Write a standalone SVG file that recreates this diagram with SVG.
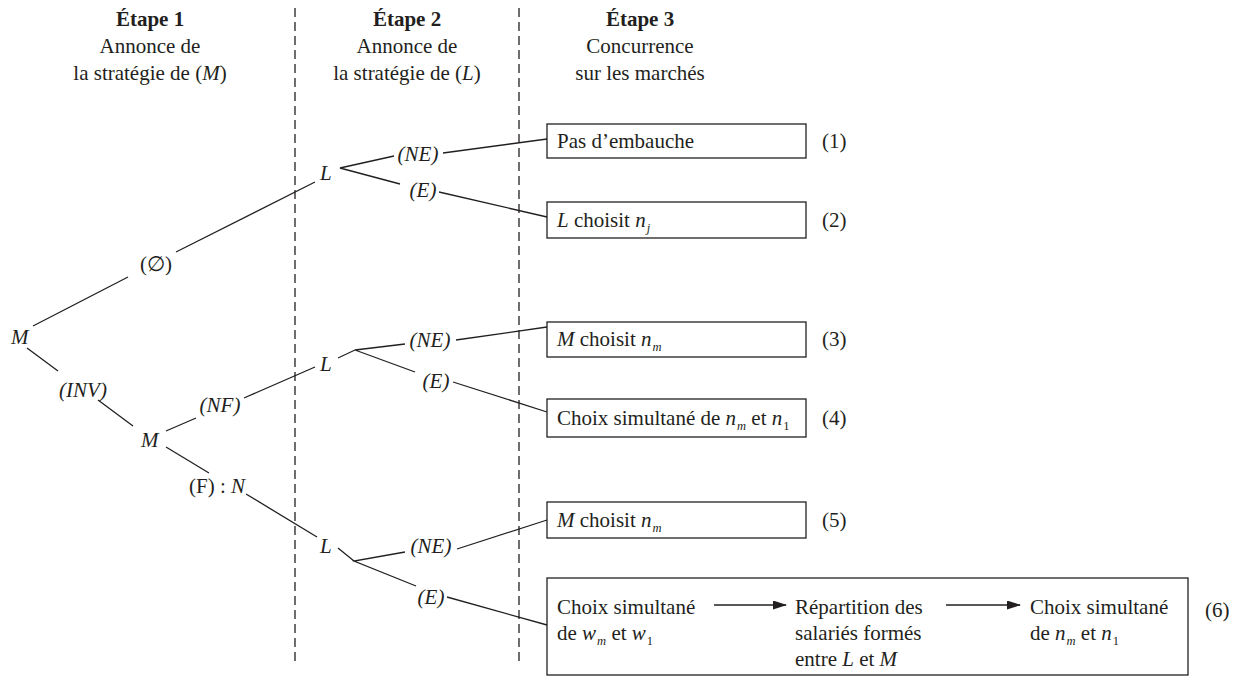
<svg xmlns="http://www.w3.org/2000/svg" width="1241" height="687" viewBox="0 0 1241 687">
<defs>
<style>
text{font-family:"Liberation Serif","Times New Roman","DejaVu Serif",serif;font-size:21px;fill:#231f20}
.b{font-weight:bold}
.i{font-style:italic}
.c{text-anchor:middle}
.sub{font-size:12.5px;font-style:italic}
.subn{font-size:12.5px}
.box{fill:none;stroke:#231f20;stroke-width:1.3}
.ln{stroke:#231f20;stroke-width:1.3;fill:none}
.dash{stroke:#231f20;stroke-width:1.3;stroke-dasharray:9,5;fill:none}
</style>
<marker id="ah" markerWidth="14" markerHeight="9" refX="13" refY="4.5" orient="auto" markerUnits="userSpaceOnUse">
<path d="M0,0 L14,4.5 L0,9 Z" fill="#231f20"/>
</marker>
</defs>
<rect width="1241" height="687" fill="#fff"/>
<g id="stages">
<line class="dash" x1="295" y1="8" x2="295" y2="662"/>
<line class="dash" x1="519" y1="8" x2="519" y2="662"/>
</g>
<g id="headers">
<text class="c b" x="150" y="26">Étape 1</text>
<text class="c" x="150" y="53">Annonce de</text>
<text class="c" x="150" y="80">la stratégie de (<tspan class="i">M</tspan>)</text>
<text class="c b" x="407" y="26">Étape 2</text>
<text class="c" x="407" y="53">Annonce de</text>
<text class="c" x="407" y="80">la stratégie de (<tspan class="i">L</tspan>)</text>
<text class="c b" x="640" y="26">Étape 3</text>
<text class="c" x="640" y="53">Concurrence</text>
<text class="c" x="640" y="80">sur les marchés</text>
</g>
<g id="connectors">
<line class="ln" x1="33" y1="326" x2="128" y2="277"/>
<line class="ln" x1="176" y1="252" x2="315" y2="182"/>
<line class="ln" x1="27" y1="348" x2="58" y2="371"/>
<line class="ln" x1="98" y1="400" x2="133" y2="426"/>
<line class="ln" x1="166" y1="431" x2="196" y2="418"/>
<line class="ln" x1="244" y1="398" x2="315" y2="367"/>
<line class="ln" x1="166" y1="447" x2="209" y2="473"/>
<line class="ln" x1="246" y1="494" x2="317" y2="537"/>
<polyline class="ln" points="394,156 340,168 400,184"/>
<line class="ln" x1="443" y1="153" x2="547" y2="139"/>
<line class="ln" x1="439" y1="192" x2="547" y2="217"/>
<line class="ln" x1="338" y1="358" x2="355" y2="350"/>
<polyline class="ln" points="405,344 355,350 415,372"/>
<line class="ln" x1="456" y1="340" x2="547" y2="327"/>
<line class="ln" x1="453" y1="382" x2="547" y2="412"/>
<line class="ln" x1="338" y1="548" x2="354" y2="561"/>
<polyline class="ln" points="405,552 354,561 416,586"/>
<line class="ln" x1="457" y1="549" x2="547" y2="520"/>
<line class="ln" x1="447" y1="597" x2="547" y2="625"/>
<line class="ln" x1="714" y1="605" x2="786" y2="605" marker-end="url(#ah)"/>
<line class="ln" x1="946" y1="605" x2="1020" y2="605" marker-end="url(#ah)"/>
</g>
<g id="tree-labels">
<text class="i" x="11" y="344">M</text>
<text class="c" x="156" y="271">(∅)</text>
<text class="i" x="320" y="180">L</text>
<text class="i c" x="418" y="161">(NE)</text>
<text class="i c" x="423" y="197">(E)</text>
<text class="i c" x="83" y="397">(INV)</text>
<text class="i" x="141" y="447">M</text>
<text class="i c" x="220" y="412">(NF)</text>
<text class="i" x="320" y="371">L</text>
<text class="i c" x="430" y="347">(NE)</text>
<text class="i c" x="436" y="388">(E)</text>
<text x="189" y="493">(F) : <tspan class="i">N</tspan></text>
<text class="i" x="320" y="553">L</text>
<text class="i c" x="431" y="553">(NE)</text>
<text class="i c" x="431" y="604">(E)</text>
</g>
<g id="node1">
<rect class="box" x="547" y="124" width="259" height="34"/>
<text x="557" y="148">Pas d’embauche</text>
<text x="822" y="148">(1)</text>
</g>
<g id="node2">
<rect class="box" x="547" y="202" width="259" height="36"/>
<text x="557" y="227"><tspan class="i">L</tspan> choisit <tspan class="i">n</tspan><tspan class="sub" dx="1" dy="5">j</tspan></text>
<text x="822" y="227">(2)</text>
</g>
<g id="node3">
<rect class="box" x="547" y="322" width="259" height="35"/>
<text x="557" y="346"><tspan class="i">M</tspan> choisit <tspan class="i">n</tspan><tspan class="sub" dx="1" dy="5">m</tspan></text>
<text x="822" y="346">(3)</text>
</g>
<g id="node4">
<rect class="box" x="547" y="399" width="259" height="38"/>
<text x="557" y="425">Choix simultané de <tspan class="i">n</tspan><tspan class="sub" dx="1" dy="5">m</tspan><tspan dy="-5"> et </tspan><tspan class="i">n</tspan><tspan class="subn" dx="1" dy="5">1</tspan></text>
<text x="822" y="425">(4)</text>
</g>
<g id="node5">
<rect class="box" x="547" y="502" width="259" height="36"/>
<text x="557" y="527"><tspan class="i">M</tspan> choisit <tspan class="i">n</tspan><tspan class="sub" dx="1" dy="5">m</tspan></text>
<text x="822" y="527">(5)</text>
</g>
<g id="node6">
<rect class="box" x="547" y="578" width="641" height="97"/>
<text x="557" y="614">Choix simultané</text>
<text x="557" y="640">de <tspan class="i">w</tspan><tspan class="sub" dx="1" dy="5">m</tspan><tspan dy="-5"> et </tspan><tspan class="i">w</tspan><tspan class="subn" dx="1" dy="5">1</tspan></text>
<text x="795" y="614">Répartition des</text>
<text x="795" y="640">salariés formés</text>
<text x="795" y="666">entre <tspan class="i">L</tspan> et <tspan class="i">M</tspan></text>
<text x="1030" y="614">Choix simultané</text>
<text x="1030" y="640">de <tspan class="i">n</tspan><tspan class="sub" dx="1" dy="5">m</tspan><tspan dy="-5"> et </tspan><tspan class="i">n</tspan><tspan class="subn" dx="1" dy="5">1</tspan></text>
<text x="1205" y="617">(6)</text>
</g>
</svg>
